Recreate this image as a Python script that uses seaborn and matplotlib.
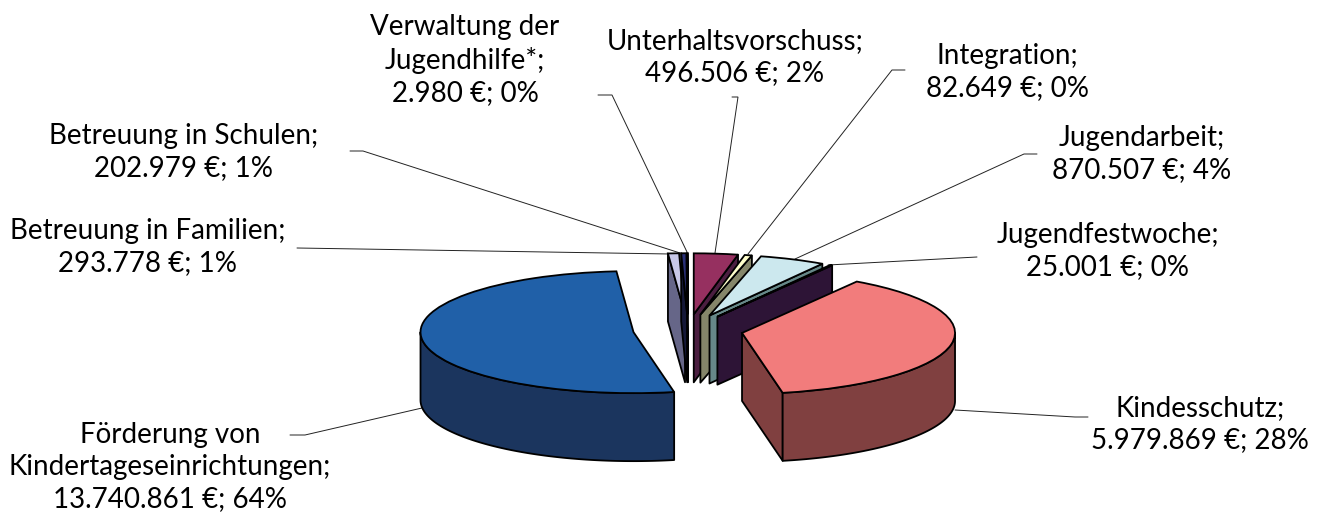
import numpy as np
import matplotlib
matplotlib.use("Agg")
import matplotlib.pyplot as plt
from matplotlib.patches import Polygon
import seaborn as sns

# ---- data ----
names = ["Unterhaltsvorschuss", "Integration", "Jugendarbeit", "Jugendfestwoche", "Kindesschutz",
         "Förderung von\nKindertageseinrichtungen", "Betreuung in Familien", "Betreuung in Schulen",
         "Verwaltung der\nJugendhilfe*"]
amounts = [496506, 82649, 870507, 25001, 5979869, 13740861, 293778, 202979, 2980]
percents = [2, 0, 4, 0, 28, 64, 1, 1, 0]
# sweep of each slice as it is actually drawn in the picture (degrees)
drawn_sweeps = [12.0, 2.0, 18.0, 0.6, 136.4, 186.4, 3.0, 1.4, 0.2]

top_colors = ["#963060", "#FFFFCC", "#CCE8EE", "#669999", "#F27C7C", "#2060A8", "#C8C8E8", "#2A3078", "#151530"]
side_colors = ["#4B1E40", "#85866A", "#668888", "#2D1436", "#804040", "#1B355E", "#666688", "#151838", "#000000"]

# ---- layout (pixels of the 1325x516 image) ----
W, H = 1325, 516
CX, CY, RX, RY = 688, 330, 213, 61
DEPTH_PX = 68
EXPLODE = 55 / 213
label_pos = [(735, 57), (1007, 72), (1142, 154), (1108, 251), (1200, 424),
             (170, 467), (148, 247), (184, 152), (465, 60)]
leaders = [[(732, 97), (738, 97), (715, 253)],
           [(905, 70), (892, 70), (748, 254)],
           [(1037, 154), (1024, 154), (795, 259)],
           [(977, 257), (828, 265)],
           [(1088, 417), (1075, 417), (955, 410)],
           [(290, 435), (305, 435), (422, 408)],
           [(297, 248), (670, 254)],
           [(350, 151), (363, 151), (680, 253)],
           [(598, 95), (612, 95), (687, 252)]]

sns.set_theme(style="white")
plt.rcParams["font.family"] = ["Lato", "DejaVu Sans"]

fig = plt.figure(figsize=(W / 100, H / 100), dpi=100, facecolor="white")
ax = fig.add_axes([0, 0, 1, 1])

palette = sns.color_palette(top_colors)
LW = 1.3
wedges, _ = ax.pie(drawn_sweeps, explode=[EXPLODE] * len(drawn_sweeps), colors=palette,
                   startangle=90, counterclock=False, radius=1,
                   wedgeprops=dict(edgecolor="black", linewidth=LW))
ax.set_aspect("auto")
ax.set_xlim(-CX / RX, (W - CX) / RX)
ax.set_ylim(-(H - CY) / RY, CY / RY)
ax.axis("off")

depth = DEPTH_PX / RY
ends = np.cumsum(drawn_sweeps)
starts = ends - np.array(drawn_sweeps)


def rim(t, ox, oy):
    r = np.radians(t)
    return ox + np.sin(r), oy + np.cos(r)


def extrude(xs, ys):
    xs, ys = np.asarray(xs), np.asarray(ys)
    return np.column_stack([np.r_[xs, xs[::-1]], np.r_[ys, ys[::-1] - depth]])


# paint order: narrow back slices from the left, then the two big ones
order = [6, 7, 8, 0, 1, 2, 3, 4, 5]
z = 2
for i in order:
    t1, t2 = starts[i], ends[i]
    mid = np.radians((t1 + t2) / 2)
    ox, oy = EXPLODE * np.sin(mid), EXPLODE * np.cos(mid)
    faces = []
    if np.sin(np.radians(t1)) < 0:
        xr, yr = rim(t1, ox, oy)
        faces.append(extrude([ox, xr], [oy, yr]))
    if np.sin(np.radians(t2)) > 0:
        xr, yr = rim(t2, ox, oy)
        faces.append(extrude([ox, xr], [oy, yr]))
    lo, hi = max(t1, 90), min(t2, 270)
    if hi > lo:
        xr, yr = rim(np.linspace(lo, hi, 120), ox, oy)
        faces.append(extrude(xr, yr))
    for f in faces:
        ax.add_patch(Polygon(f, closed=True, facecolor=side_colors[i], edgecolor="black",
                             linewidth=LW, joinstyle="round", zorder=z))
        z += 1
    wedges[i].set_zorder(z)
    z += 1


def to_data(px, py):
    return (px - CX) / RX, (CY - py) / RY


for path in leaders:
    pts = np.array([to_data(*p) for p in path])
    ax.plot(pts[:, 0], pts[:, 1], color="#222222", lw=0.7, zorder=1, solid_joinstyle="miter")

for name, amount, pct, (px, py) in zip(names, amounts, percents, label_pos):
    value = f"{amount:,}".replace(",", ".")
    x, y = to_data(px, py)
    ax.text(x, y, f"{name};\n{value} €; {pct}%", ha="center", va="center", fontsize=20,
            color="black", linespacing=1.3, zorder=100)

fig.savefig("out.png", dpi=100, facecolor="white")
